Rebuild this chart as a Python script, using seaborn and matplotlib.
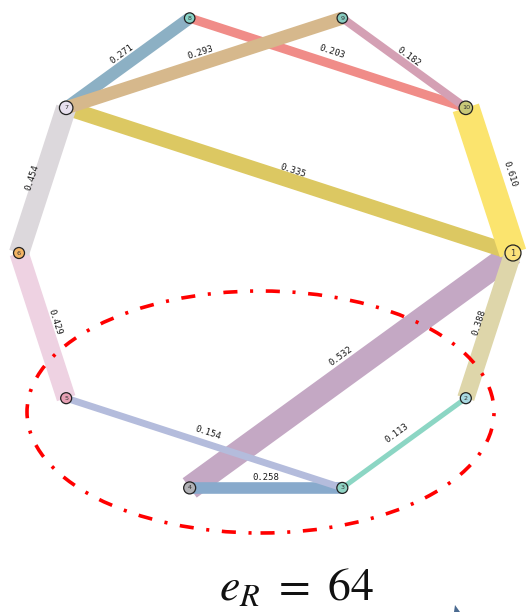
import numpy as np
import pandas as pd
import matplotlib
matplotlib.use("Agg")
import matplotlib.pyplot as plt
from matplotlib.patches import Ellipse, Polygon
import seaborn as sns

# ---- graph data ----
nodes = [1, 2, 3, 4, 5, 6, 7, 8, 9, 10]
node_colors = ["#fbe27a", "#a8d8e0", "#90d4c4", "#b0b0b4", "#e6a0b4",
               "#f4b464", "#e8e0ee", "#88d4c8", "#88ccc0", "#c8c878"]
node_diam_px = [16, 11, 11, 12, 11, 11, 13.5, 10.5, 10.5, 13.5]

# edges in drawing order (later ones sit on top)
edge_src = [1, 1, 1, 1, 2, 3, 3, 5, 6, 7, 8, 7, 9]
edge_dst = [4, 7, 10, 2, 3, 4, 5, 6, 7, 8, 10, 9, 10]
edge_weight = [0.532, 0.335, 0.610, 0.388, 0.113, 0.258, 0.154,
               0.429, 0.454, 0.271, 0.203, 0.293, 0.182]
edge_colors = ["#c4a8c4", "#dcc862", "#fbe46e", "#ded6aa", "#8cd6c4",
               "#88aacc", "#b4bcdc", "#eed2e2", "#dcd8dc", "#8cb0c4",
               "#f08c88", "#d6b88c", "#d4a0b4"]
# distance (px) of each weight label from its edge's centre line
label_offset_px = [18, 10, 22, 11, 12, 10, 10.5, 12.5, 10.5, 11, 12, 11, 8]

caption = r"$e_R\ =\ 64$"

# ---- styling ----
sns.set_theme(style="white")
plt.rcParams["lines.solid_capstyle"] = "butt"
plt.rcParams["mathtext.fontset"] = "stix"

PX_PER_UNIT = 247.0          # circle radius in pixels
WIDTH_PT_PER_W = 32.4        # edge width (points) per unit weight

fig = plt.figure(figsize=(5.30, 6.12), dpi=100)
ax = fig.add_axes([0, 0, 1, 1])
ax.set_xlim(-266 / PX_PER_UNIT, 264 / PX_PER_UNIT)
ax.set_ylim(-359 / PX_PER_UNIT, 253 / PX_PER_UNIT)
ax.set_aspect("equal")
ax.axis("off")

# circular layout, node 1 at the right, going clockwise
angles = -np.deg2rad(36.0 * (np.array(nodes) - 1))
pos = {n: (np.cos(a), np.sin(a)) for n, a in zip(nodes, angles)}

# ---- edges ----
edge_names = [f"{s}-{d}" for s, d in zip(edge_src, edge_dst)]
rows = []
for name, s, d, w in zip(edge_names, edge_src, edge_dst, edge_weight):
    for n in (s, d):
        rows.append({"x": pos[n][0], "y": pos[n][1], "edge": name, "weight": w})
edges_df = pd.DataFrame(rows)

wmin, wmax = min(edge_weight), max(edge_weight)
sns.lineplot(data=edges_df, x="x", y="y", hue="edge", size="weight",
             hue_order=edge_names,
             palette=dict(zip(edge_names, edge_colors)),
             sizes=(wmin * WIDTH_PT_PER_W, wmax * WIDTH_PT_PER_W),
             size_norm=(wmin, wmax),
             estimator=None, sort=False, legend=False, ax=ax,
             solid_capstyle="butt", zorder=1)

# edge weight labels, rotated along the edge and set just beside it
for s, d, w, off in zip(edge_src, edge_dst, edge_weight, label_offset_px):
    (x0, y0), (x1, y1) = pos[s], pos[d]
    ang = np.degrees(np.arctan2(y1 - y0, x1 - x0))
    if ang > 90:
        ang -= 180
    elif ang < -90:
        ang += 180
    r = np.deg2rad(ang)
    nx_, ny_ = -np.sin(r), np.cos(r)
    off_pt = off * 0.72
    ax.annotate(f"{w:.3f}", xy=((x0 + x1) / 2, (y0 + y1) / 2),
                xytext=(nx_ * off_pt, ny_ * off_pt), textcoords="offset points",
                ha="center", va="center", rotation=ang, rotation_mode="anchor",
                fontsize=6.4, family="DejaVu Sans Mono", color="#1a1a1a",
                zorder=2)

# ---- nodes ----
node_names = [str(n) for n in nodes]
nodes_df = pd.DataFrame({"x": [pos[n][0] for n in nodes],
                         "y": [pos[n][1] for n in nodes],
                         "node": node_names})
sns.scatterplot(data=nodes_df, x="x", y="y", hue="node", size="node",
                hue_order=node_names,
                palette=dict(zip(node_names, node_colors)),
                sizes={k: (0.72 * dpx) ** 2 for k, dpx in zip(node_names, node_diam_px)},
                edgecolor="#222222", linewidth=0.9, legend=False, ax=ax, zorder=3)
for n in nodes:
    ax.text(pos[n][0], pos[n][1], str(n), ha="center", va="center",
            fontsize=6 if n == 1 else 4.6, color="#333333", zorder=4)

# ---- highlighted region ----
ell = Ellipse(xy=(-5.5 / PX_PER_UNIT, -159 / PX_PER_UNIT),
              width=467 / PX_PER_UNIT, height=242 / PX_PER_UNIT,
              fill=False, edgecolor="#ff0000", linewidth=2.6,
              linestyle=(0, (3.9, 3.5, 0.85, 3.5)), zorder=5)
ax.add_patch(ell)

# ---- caption ----
fig.text(297 / 530, 12 / 612, caption, fontsize=33, ha="center",
         va="baseline", color="#111111")

# small arrow tip at the lower edge
W, H = 530, 612
tip = Polygon([(454 / W, 0.0), (460 / W, 0.0), (455 / W, 1 - 605 / H)],
              closed=True, transform=fig.transFigure,
              facecolor="#4a6a90", edgecolor="none")
fig.add_artist(tip)

fig.savefig("out.png", dpi=100)
